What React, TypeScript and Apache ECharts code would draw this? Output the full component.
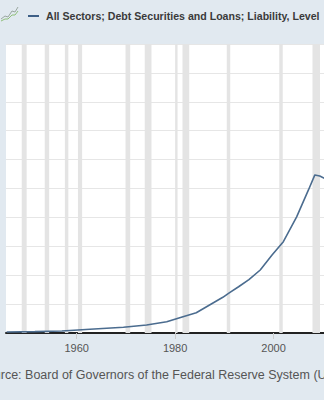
import React, { useEffect, useRef } from "react";
import * as echarts from "echarts";

const years = [1945.75, 1951.5, 1957, 1962.7, 1969.5, 1974.2, 1978.3, 1981.6, 1984.3, 1987, 1989.7, 1991, 1992.9, 1995, 1997.3, 1999.7, 2002.0, 2004.7, 2007.1, 2008.4, 2009.4, 2010.5];
const debtValues = [350, 480, 700, 1280, 1970, 2770, 3900, 5640, 7020, 9690, 12350, 13900, 16000, 18500, 21800, 27000, 31600, 40200, 49500, 54700, 54300, 53400];

const recessionStarts = [1948.83, 1953.5, 1957.6, 1960.25, 1969.92, 1973.83, 1980.0, 1981.5, 1990.5, 2001.17, 2007.92];
const recessionEnds = [1949.83, 1954.4, 1958.3, 1961.1, 1970.87, 1975.2, 1980.5, 1982.87, 1991.2, 2001.87, 2009.45];

const tickYears = [1960, 1980, 2000];

const titleText = "All Sectors; Debt Securities and Loans; Liability, Level";
const sourceText = "Source: Board of Governors of the Federal Reserve System (US)";

export default function App() {
  const ref = useRef<HTMLDivElement>(null);
  useEffect(() => {
    if (!ref.current) return;
    const chart = echarts.init(ref.current, null, { renderer: "svg" });
    const seriesData = years.map((y, i) => [y, debtValues[i]]);
    const areas = recessionStarts.map((s, i) => [{ xAxis: s }, { xAxis: recessionEnds[i] }]);
    chart.setOption({
      animation: false,
      backgroundColor: "#e1e9f0",
      grid: {
        left: 6,
        right: 0,
        top: 44,
        bottom: 67,
        show: true,
        backgroundColor: "#ffffff",
        borderWidth: 0,
      },
      xAxis: {
        type: "value",
        min: 1945.63,
        max: 2010.26,
        axisLine: { show: true, lineStyle: { color: "#222222", width: 2 } },
        axisTick: { show: true, customValues: tickYears, length: 6, lineStyle: { color: "#cccccc" } },
        axisLabel: {
          show: true,
          customValues: tickYears,
          formatter: (v: number) => String(Math.round(v)),
          color: "#555555",
          fontSize: 11,
          fontFamily: "Liberation Sans, Arial, sans-serif",
          margin: 9,
        },
        splitLine: { show: false },
      },
      yAxis: {
        type: "value",
        min: 0,
        max: 100000,
        interval: 10000,
        axisLine: { show: false },
        axisTick: { show: false },
        axisLabel: { show: false },
        splitLine: { show: true, lineStyle: { color: "#e6e6e6", width: 1 } },
      },
      series: [
        {
          type: "line",
          data: seriesData,
          showSymbol: false,
          smooth: false,
          clip: true,
          lineStyle: { color: "#4b6c8f", width: 1.6 },
          markArea: {
            silent: true,
            itemStyle: { color: "#e4e4e4" },
            data: areas,
          },
        },
      ],
      graphic: [
        {
          type: "polyline",
          shape: { points: [[1, 19], [5, 16], [8, 17], [12, 11], [15, 12], [18, 7]] },
          style: { stroke: "#9aa7a0", lineWidth: 1, fill: "none" },
        },
        {
          type: "polyline",
          shape: { points: [[1, 21], [5, 19], [8, 19], [12, 15], [15, 15], [18, 11]] },
          style: { stroke: "#8fbf7a", lineWidth: 1, fill: "none" },
        },
        {
          type: "line",
          shape: { x1: 28, y1: 16, x2: 39, y2: 16 },
          style: { stroke: "#3d5f86", lineWidth: 2 },
        },
        {
          type: "text",
          x: 46,
          y: 16,
          style: {
            text: titleText,
            fill: "#3a3a3a",
            fontSize: 10.6,
            fontWeight: "bold",
            fontFamily: "Liberation Sans, Arial, sans-serif",
            verticalAlign: "middle",
            align: "left",
          },
        },
        {
          type: "text",
          x: -21.5,
          y: 375,
          style: {
            text: sourceText,
            fill: "#555555",
            fontSize: 12.5,
            fontFamily: "Liberation Sans, Arial, sans-serif",
            verticalAlign: "middle",
            align: "left",
          },
        },
      ],
    });
    return () => chart.dispose();
  }, []);
  return (
    <div
      ref={ref}
      style={{ position: "fixed", left: 0, top: 0, width: 324, height: 400 }}
    />
  );
}
